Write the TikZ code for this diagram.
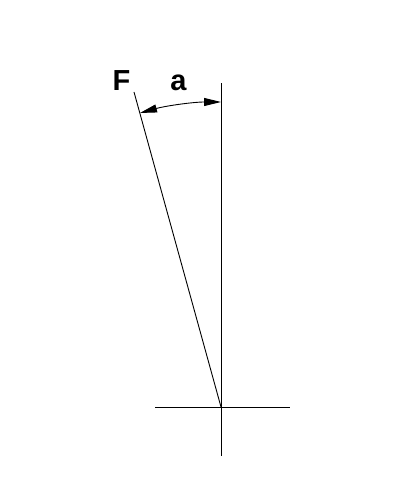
\documentclass[tikz,border=0pt]{standalone}
\usepackage{fontspec}
\setsansfont{Liberation Sans}
\usetikzlibrary{arrows.meta}
\tikzset{
  thinline/.style={line width=0.9pt},
  tip/.style={Triangle[length=17pt,width=8pt]},
  lbl/.style={font=\sffamily\bfseries\fontsize{29}{32}\selectfont, anchor=base, inner sep=0pt}
}
\begin{document}
\begin{tikzpicture}[x=1pt,y=1pt]
	\useasboundingbox (0,0) rectangle (406,481);
	\coordinate (O) at (221,74);
	\coordinate (top) at (221,398);
	\coordinate (bot) at (221,25);
	\coordinate (left) at (155,74);
	\coordinate (right) at (290,74);
	\coordinate (Ftop) at (134,389);
	\draw[thinline] (bot) -- (top);
	\draw[thinline] (left) -- (right);
	\draw[thinline] (O) -- (Ftop);
	\node[lbl] (F) at (121.5,390) {F};
	\node[lbl] (a) at (178.5,390) {a};
	% angle between force and vertical
	\draw[thinline,{Triangle[length=17pt,width=8pt]}-{Triangle[length=17pt,width=8pt]}]
		(O) ++(105.4:305) arc[start angle=105.4, end angle=90, radius=305];
\end{tikzpicture}
\end{document}
